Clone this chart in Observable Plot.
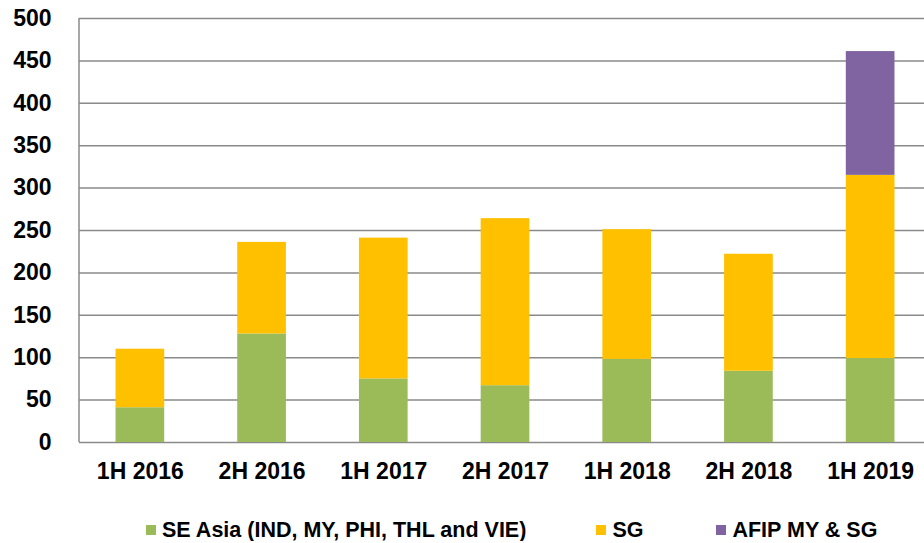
<!DOCTYPE html>
<html>
<head>
<meta charset="utf-8">
<script src="https://cdn.jsdelivr.net/npm/d3@7"></script>
<script src="https://cdn.jsdelivr.net/npm/@observablehq/plot@0.6"></script>
<style>
  html, body { margin: 0; padding: 0; background: #fff; overflow: hidden; }
  #chart svg { display: block; }
  .legend {
    display: flex; align-items: center;
    padding-top: 29px; height: 22px; line-height: 22px;
    font-family: "Liberation Sans", Arial, sans-serif; font-weight: bold; font-size: 21.5px; color: #000;
    padding-left: 146px;
  }
  .legend .item { display: flex; align-items: center; white-space: nowrap; }
  .legend .sw { width: 10px; height: 10px; margin-right: 6px; }
</style>
</head>
<body>
<div id="chart"></div>
<div class="legend" id="legend"></div>
<script>
const periods = ["1H 2016", "2H 2016", "1H 2017", "2H 2017", "1H 2018", "2H 2018", "1H 2019"];
const seAsia = [41, 128, 75, 67, 98, 84, 99];
const sg = [69, 108, 166, 197, 153, 138, 216];
const afip = [0, 0, 0, 0, 0, 0, 146];
const seriesNames = ["SE Asia (IND, MY, PHI, THL and VIE)", "SG", "AFIP MY & SG"];
const seriesColors = ["#9BBB59", "#FFC000", "#8064A2"];
const yTicks = [0, 50, 100, 150, 200, 250, 300, 350, 400, 450, 500];

const seriesValues = [seAsia, sg, afip];
const table = [];
seriesNames.forEach((s, si) => {
  periods.forEach((p, i) => {
    if (seriesValues[si][i] > 0) table.push({period: p, series: s, value: seriesValues[si][i]});
  });
});

const leftLine = (index, scales, values, dimensions) => {
  const g = d3.create("svg:line")
    .attr("x1", dimensions.marginLeft).attr("x2", dimensions.marginLeft)
    .attr("y1", scales.y(500)).attr("y2", scales.y(0))
    .attr("stroke", "#8a8a8a").attr("stroke-width", 1.5);
  return g.node();
};

const chart = Plot.plot({
  width: 924, height: 490,
  marginLeft: 79, marginRight: 0, marginTop: 18, marginBottom: 48,
  style: {fontFamily: "'Liberation Sans', Arial, sans-serif", fontSize: "23px", fontWeight: "bold", color: "#000", background: "#fff"},
  x: {domain: periods, range: [79, 931], paddingInner: 0.6, paddingOuter: 0.3, round: false, label: null},
  y: {domain: [0, 500], label: null},
  color: {domain: seriesNames, range: seriesColors},
  marks: [
    Plot.ruleY(yTicks, {stroke: "#8a8a8a", strokeWidth: 1.5}),
    Plot.barY(table, {x: "period", y: "value", fill: "series", order: seriesNames}),
    leftLine,
    Plot.axisY(yTicks, {tickSize: 0, tickPadding: 28, label: null}),
    Plot.axisX({tickSize: 0, tickPadding: 20, label: null})
  ]
});
document.getElementById("chart").appendChild(chart);

const legend = document.getElementById("legend");
const gaps = [0, 70, 73];
seriesNames.forEach((s, i) => {
  const item = document.createElement("div");
  item.className = "item";
  item.style.marginLeft = gaps[i] + "px";
  const sw = document.createElement("span");
  sw.className = "sw";
  sw.style.background = seriesColors[i];
  const t = document.createElement("span");
  t.textContent = s;
  item.appendChild(sw); item.appendChild(t);
  legend.appendChild(item);
});
</script>
</body>
</html>
